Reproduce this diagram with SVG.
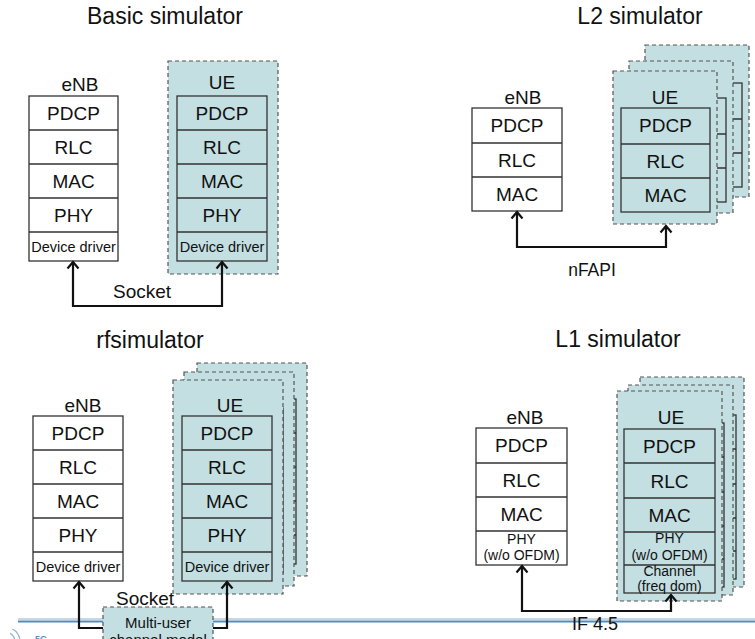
<svg xmlns="http://www.w3.org/2000/svg" width="755" height="639" viewBox="0 0 755 639">
<defs>
<style>
text { font-family: "Liberation Sans", Arial, Helvetica, sans-serif; fill: #111; text-anchor: middle; }
.title { font-size: 23px; }
.lbl { font-size: 19px; }
.dd { font-size: 14.5px; }
.sm { font-size: 14px; }
.mu { font-size: 15px; }
.box { fill: #ffffff; stroke: #333; stroke-width: 1.3; }
.ubox { fill: #c3dfe2; stroke: #333; stroke-width: 1.3; }
.card { fill: #c3dfe2; stroke: #555; stroke-width: 1.2; stroke-dasharray: 4 3; }
.sep { stroke: #333; stroke-width: 1.5; }
.conn { fill: none; stroke: #111; stroke-width: 2.2; }
</style>
<marker id="chev" markerUnits="userSpaceOnUse" viewBox="-9 -7 11 14" refX="0" refY="0" markerWidth="11" markerHeight="14" orient="auto-start-reverse">
<path d="M-6.5,-5.5 L0,0 L-6.5,5.5" fill="none" stroke="#111" stroke-width="2.2" stroke-linejoin="miter"/>
</marker>
</defs>
<rect x="0" y="0" width="755" height="639" fill="#ffffff"/>

<g id="footer">
<line x1="18" y1="619" x2="755" y2="619" stroke="#bcc8d0" stroke-width="1.5"/>
<line x1="18" y1="621.5" x2="755" y2="621.5" stroke="#4f8dbf" stroke-width="2"/>
<path d="M10 633.3 A10 10 0 0 1 10 650.7 M12.5 629 A15 15 0 0 1 12.5 655" fill="none" stroke="#8fb0cc" stroke-width="1.2"/>
<text x="41" y="641.5" style="font-size:9px;fill:#5c8fc4;font-weight:bold">5G</text>
</g>

<!-- Basic simulator -->
<g id="basic-title"><text class="title" x="165" y="24">Basic simulator</text></g>
<g id="basic-enb">
<text class="lbl" x="80" y="91">eNB</text>
<rect class="box" x="29" y="96" width="89" height="165"/>
<path class="sep" d="M29 130H118M29 164H118M29 198H118M29 232H118"/>
<text class="lbl" x="73.5" y="120">PDCP</text>
<text class="lbl" x="73.5" y="154">RLC</text>
<text class="lbl" x="73.5" y="188">MAC</text>
<text class="lbl" x="73.5" y="222">PHY</text>
<text class="dd" x="73.5" y="252">Device driver</text>
</g>
<g id="basic-ue">
<rect class="card" x="168" y="61" width="110" height="213"/>
<text class="lbl" x="222" y="89">UE</text>
<rect class="ubox" x="177" y="96" width="90" height="165"/>
<path class="sep" d="M177 130H267M177 164H267M177 198H267M177 232H267"/>
<text class="lbl" x="222" y="120">PDCP</text>
<text class="lbl" x="222" y="154">RLC</text>
<text class="lbl" x="222" y="188">MAC</text>
<text class="lbl" x="222" y="222">PHY</text>
<text class="dd" x="222" y="252">Device driver</text>
</g>

<!-- L2 simulator -->
<g id="l2-title"><text class="title" x="640" y="24">L2 simulator</text></g>
<g id="l2-enb">
<text class="lbl" x="523" y="104">eNB</text>
<rect class="box" x="472" y="108" width="90" height="103"/>
<path class="sep" d="M472 143H562M472 177H562"/>
<text class="lbl" x="517" y="132">PDCP</text>
<text class="lbl" x="517" y="167">RLC</text>
<text class="lbl" x="517" y="201">MAC</text>
</g>
<g id="l2-ue">
<rect class="card" x="645" y="45" width="104" height="152"/>
<rect class="ubox" x="653" y="83" width="89" height="104"/>
<path class="sep" d="M653 119H742M653 153H742"/>
<rect class="card" x="629" y="61" width="104" height="152"/>
<rect class="ubox" x="637" y="98" width="89" height="104"/>
<path class="sep" d="M637 134H726M637 168H726"/>
<rect class="card" x="613" y="71" width="104" height="153"/>
<text class="lbl" x="665" y="104">UE</text>
<rect class="ubox" x="621" y="108" width="89" height="104"/>
<path class="sep" d="M621 144H710M621 178H710"/>
<text class="lbl" x="665.5" y="132">PDCP</text>
<text class="lbl" x="665.5" y="168">RLC</text>
<text class="lbl" x="665.5" y="202">MAC</text>
</g>

<!-- rfsimulator -->
<g id="rf-title"><text class="title" x="150" y="348">rfsimulator</text></g>
<g id="rf-enb">
<text class="lbl" x="83" y="412">eNB</text>
<rect class="box" x="33" y="416" width="90" height="165"/>
<path class="sep" d="M33 450H123M33 484H123M33 518H123M33 552H123"/>
<text class="lbl" x="78" y="440">PDCP</text>
<text class="lbl" x="78" y="474">RLC</text>
<text class="lbl" x="78" y="508">MAC</text>
<text class="lbl" x="78" y="542">PHY</text>
<text class="dd" x="78" y="572">Device driver</text>
</g>
<g id="rf-ue">
<rect class="card" x="197" y="363" width="110" height="213"/>
<rect class="ubox" x="206" y="399" width="90" height="165"/>
<path class="sep" d="M206 433H296M206 467H296M206 501H296M206 535H296"/>
<rect class="card" x="184" y="372" width="110" height="214"/>
<rect class="ubox" x="193" y="408" width="90" height="165"/>
<path class="sep" d="M193 442H283M193 476H283M193 510H283M193 544H283"/>
<rect class="card" x="173" y="380" width="110" height="214"/>
<text class="lbl" x="230" y="412">UE</text>
<rect class="ubox" x="182" y="416" width="90" height="165"/>
<path class="sep" d="M182 450H272M182 484H272M182 518H272M182 552H272"/>
<text class="lbl" x="227" y="440">PDCP</text>
<text class="lbl" x="227" y="474">RLC</text>
<text class="lbl" x="227" y="508">MAC</text>
<text class="lbl" x="227" y="542">PHY</text>
<text class="dd" x="227" y="572">Device driver</text>
</g>
<g id="rf-channel">
<rect class="card" x="103" y="607" width="110" height="50"/>
<text class="mu" x="158" y="628">Multi-user</text>
<text class="mu" x="158" y="645">channel model</text>
</g>

<!-- L1 simulator -->
<g id="l1-title"><text class="title" x="618" y="347">L1 simulator</text></g>
<g id="l1-enb">
<text class="lbl" x="525" y="424">eNB</text>
<rect class="box" x="476" y="428" width="91" height="137"/>
<path class="sep" d="M476 463H567M476 497H567M476 531H567"/>
<text class="lbl" x="521.5" y="452">PDCP</text>
<text class="lbl" x="521.5" y="487">RLC</text>
<text class="lbl" x="521.5" y="521">MAC</text>
<text class="sm" x="521.5" y="544">PHY</text>
<text class="sm" x="521.5" y="560">(w/o OFDM)</text>
</g>
<g id="l1-ue">
<rect class="card" x="640" y="377" width="104" height="210"/>
<rect class="ubox" x="645" y="415" width="91" height="164"/>
<path class="sep" d="M645 449H736M645 484H736M645 518H736M645 551H736"/>
<rect class="card" x="628" y="385" width="105" height="210"/>
<rect class="ubox" x="633" y="423" width="91" height="164"/>
<path class="sep" d="M633 457H724M633 492H724M633 526H724M633 559H724"/>
<rect class="card" x="617" y="391" width="105" height="210"/>
<text class="lbl" x="671" y="424">UE</text>
<rect class="ubox" x="624" y="429" width="91" height="164"/>
<path class="sep" d="M624 463H715M624 498H715M624 532H715M624 565H715"/>
<text class="lbl" x="669.5" y="453">PDCP</text>
<text class="lbl" x="669.5" y="488">RLC</text>
<text class="lbl" x="669.5" y="522">MAC</text>
<text class="sm" x="669.5" y="543">PHY</text>
<text class="sm" x="669.5" y="560">(w/o OFDM)</text>
<text class="sm" x="669.5" y="576">Channel</text>
<text class="sm" x="669.5" y="591">(freq dom)</text>
</g>

<g id="connectors">
<path class="conn" d="M73 262V306H222V262" marker-start="url(#chev)" marker-end="url(#chev)"/>
<text class="lbl" x="142" y="298">Socket</text>
<path class="conn" d="M517 212V247H666V226" marker-start="url(#chev)" marker-end="url(#chev)"/>
<text class="lbl" x="592" y="276" style="font-size:17.5px">nFAPI</text>
<path class="conn" d="M79 582V628H103" marker-start="url(#chev)"/>
<path class="conn" d="M213 628H227V582" marker-end="url(#chev)"/>
<text class="lbl" x="145" y="605">Socket</text>
<path class="conn" d="M522 566V611H671V595" marker-start="url(#chev)" marker-end="url(#chev)"/>
<text class="lbl" x="595" y="630" style="font-size:18px">IF 4.5</text>
</g>
</svg>
